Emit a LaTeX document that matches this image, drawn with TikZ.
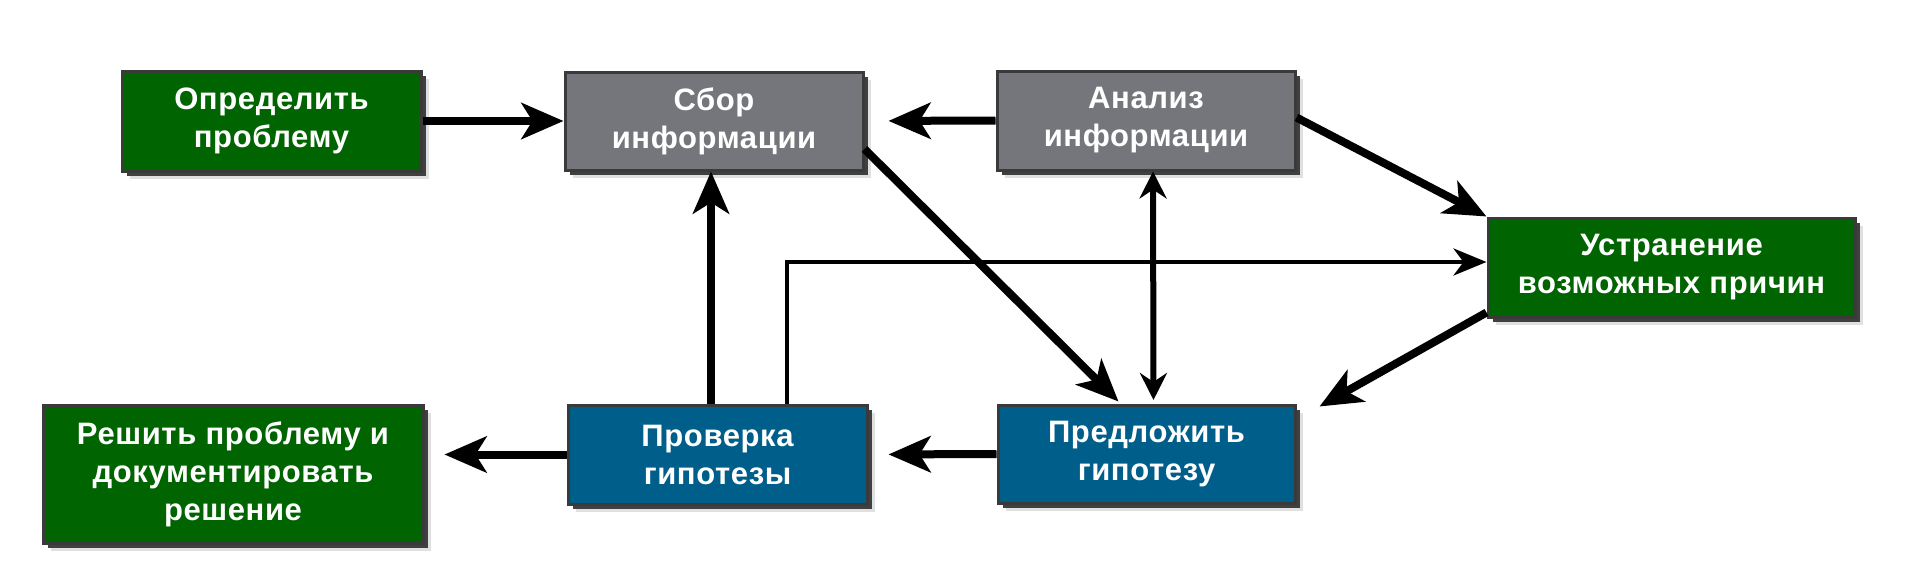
\documentclass[tikz,border=0pt]{standalone}
\usepackage{fontspec}
\setmainfont[LetterSpace=2]{Liberation Sans}
\usetikzlibrary{arrows.meta,shadows}
\definecolor{boxgreen}{HTML}{006400}
\definecolor{boxblue}{HTML}{005E8A}
\definecolor{boxgray}{HTML}{75767B}
\definecolor{boxborder}{HTML}{3A3A3A}
\tikzset{
  box/.style={draw=boxborder, line width=3pt, text=white, align=center,
    font=\bfseries\fontsize{31}{38}\selectfont, inner sep=0pt,
    general shadow={shadow xshift=8pt, shadow yshift=-8pt, fill=black!12},
    general shadow={shadow xshift=5pt, shadow yshift=-5pt, fill=black!75}},
  greenbox/.style={box, fill=boxgreen},
  bluebox/.style={box, fill=boxblue},
  graybox/.style={box, fill=boxgray},
  thickarr/.style={line width=8pt, -{Stealth[length=42pt,width=36pt,inset=11pt]}},
  thinarr/.style={line width=4.3pt, -{Stealth[length=33pt,width=27pt,inset=10pt]}},
  dblarr/.style={line width=6pt, {Stealth[length=27pt,width=27pt,inset=9pt]}-{Stealth[length=27pt,width=27pt,inset=9pt]}}
}
\begin{document}
\begin{tikzpicture}[x=1pt,y=1pt]
\useasboundingbox (0,0) rectangle (1920,-565);
\node[greenbox, minimum width=299pt, minimum height=100pt] (def) at (271.5,-121) {Определить\\проблему};
\node[graybox, minimum width=298pt, minimum height=98pt] (sbor) at (714,-121) {Сбор\\информации};
\node[graybox, minimum width=298pt, minimum height=99pt] (anal) at (1146,-120.5) {Анализ\\информации};
\node[greenbox, minimum width=367pt, minimum height=99pt] (ustr) at (1671.5,-267.5) {Устранение\\возможных причин};
\node[greenbox, minimum width=380pt, minimum height=138pt] (resh) at (233,-474) {Решить проблему и\\документировать\\решение};
\node[bluebox, minimum width=299pt, minimum height=99pt] (prov) at (717.5,-454.5) {Проверка\\гипотезы};
\node[bluebox, minimum width=297pt, minimum height=98pt] (predl) at (1146.5,-454) {Предложить\\гипотезу};

\draw[thickarr] (def.east) -- (sbor.west);
\draw[thickarr, shorten >=24pt] (anal.west) -- (sbor.east);
\draw[thickarr] ([yshift=3pt]anal.east) -- (ustr.north west);
\draw[thinarr] ([xshift=69.5pt]prov.north) |- ([yshift=5.5pt]ustr.west);
\draw[thickarr] ([yshift=6pt]ustr.south west) -- ([xshift=23pt,yshift=-3pt]predl.north east);
\draw[thickarr] ([yshift=-28pt]sbor.east) -- ([xshift=-28pt,yshift=2pt]predl.north);
\draw[dblarr, shorten >=3.5pt] ([xshift=7pt]anal.south) -- ([xshift=7pt]predl.north);
\draw[thickarr, shorten >=20pt] (predl.west) -- (prov.east);
\coordinate (pv) at ([xshift=-6.5pt]prov.north);
\draw[thickarr] (pv) -- (pv |- sbor.south);
\draw[thickarr, shorten >=20pt] (prov.west) -- (prov.west -| resh.east);
\end{tikzpicture}
\end{document}
